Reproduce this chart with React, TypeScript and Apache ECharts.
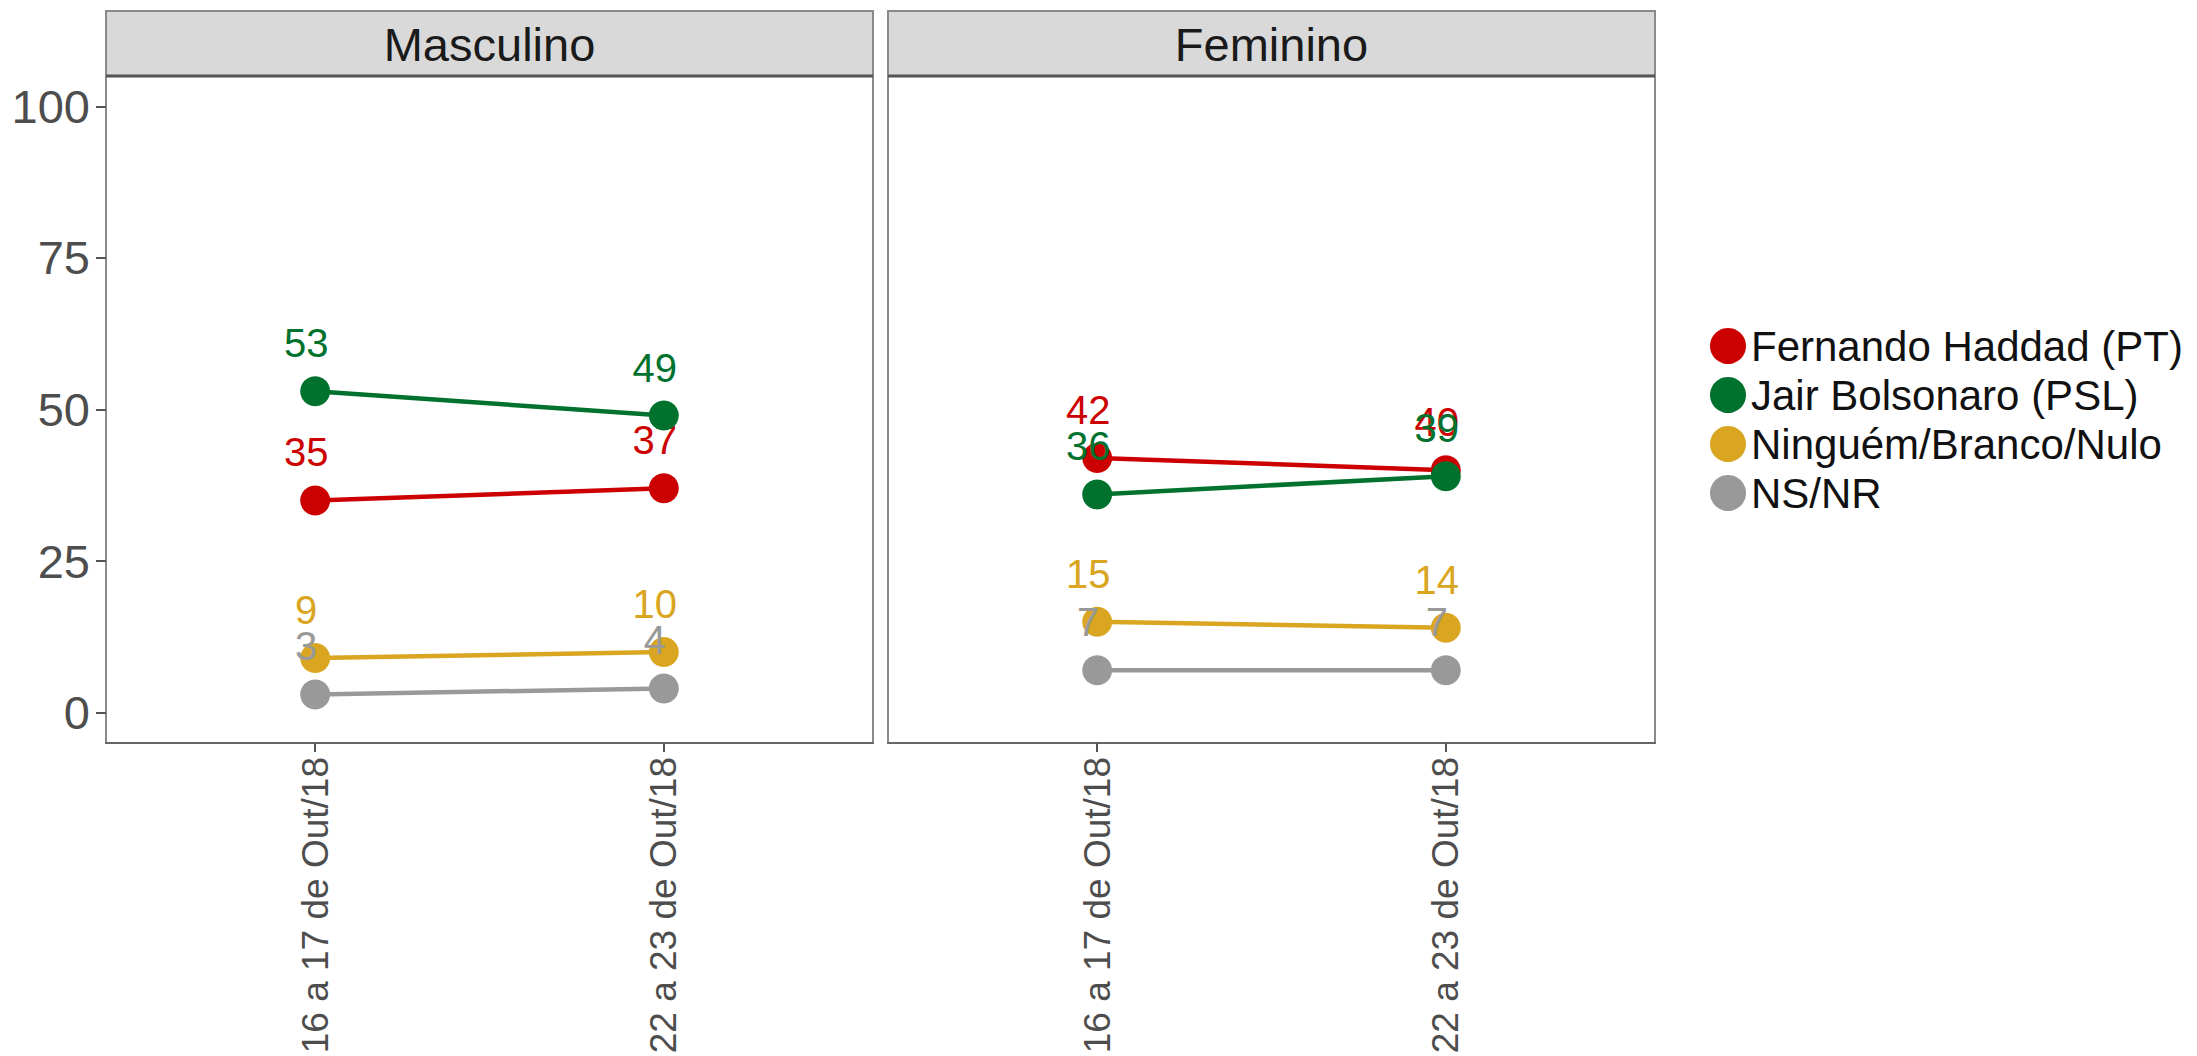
import React, { useEffect, useRef } from "react";
import * as echarts from "echarts";

// ---- Data ----
const periods = ["16 a 17 de Out/18", "22 a 23 de Out/18"];
const panels = ["Masculino", "Feminino"];
const candidates = [
  "Fernando Haddad (PT)",
  "Jair Bolsonaro (PSL)",
  "Ninguém/Branco/Nulo",
  "NS/NR",
];
const colors = ["#cc0000", "#00722d", "#daa520", "#999999"];

// values per candidate, [period1, period2]
const masculino = [
  [35, 37],
  [53, 49],
  [9, 10],
  [3, 4],
];
const feminino = [
  [42, 40],
  [36, 39],
  [15, 14],
  [7, 7],
];
const yTicks = [0, 25, 50, 75, 100];

const FONT = "'Liberation Sans', Arial, sans-serif";

export default function App() {
  const ref = useRef<HTMLDivElement>(null);

  useEffect(() => {
    if (!ref.current) return;
    const chart = echarts.init(ref.current, null, { renderer: "svg" });

    const panelLeft = [106, 888];
    const panelWidth = 767;
    const stripTop = 11;
    const stripH = 65;
    const gridTop = 76;
    const gridH = 667;

    const grids = panelLeft.map((l) => ({
      left: l,
      top: gridTop,
      width: panelWidth,
      height: gridH,
      show: true,
      containLabel: false,
      outerBoundsMode: "none",
      borderColor: "#8a8a8a",
      borderWidth: 2,
      backgroundColor: "#ffffff",
    }));

    const xAxes = panelLeft.map((_, i) => ({
      type: "value",
      gridIndex: i,
      min: 0.4,
      max: 2.6,
      splitLine: { show: false },
      axisLine: { show: true, onZero: false, lineStyle: { color: "#666666", width: 2 } },
      axisTick: {
        show: true,
        length: 9,
        lineStyle: { color: "#555555", width: 2 },
        customValues: [1, 2],
      },
      axisLabel: {
        show: true,
        customValues: [1, 2],
        rotate: 90,
        margin: 14,
        fontSize: 37,
        fontFamily: FONT,
        color: "#4d4d4d",
        formatter: (v: number) => periods[Math.round(v) - 1] ?? "",
      },
    }));

    const yAxes = panelLeft.map((_, i) => ({
      type: "value",
      gridIndex: i,
      min: -5,
      max: 105,
      splitLine: { show: false },
      axisLine: { show: false },
      axisTick: {
        show: i === 0,
        length: 10,
        lineStyle: { color: "#555555", width: 2 },
        customValues: yTicks,
      },
      axisLabel: {
        show: i === 0,
        customValues: yTicks,
        margin: 16,
        fontSize: 47,
        fontFamily: FONT,
        color: "#4d4d4d",
      },
    }));

    const series: any[] = [];
    [masculino, feminino].forEach((panelData, p) => {
      panelData.forEach((vals, c) => {
        series.push({
          type: "line",
          name: candidates[c],
          xAxisIndex: p,
          yAxisIndex: p,
          data: vals.map((v, k) => [k + 1, v]),
          symbol: "circle",
          symbolSize: 30,
          lineStyle: { color: colors[c], width: 4.5 },
          itemStyle: { color: colors[c] },
          emphasis: { disabled: true },
          label: {
            show: true,
            position: "inside",
            offset: [-9, -48],
            fontSize: 40,
            fontFamily: FONT,
            color: colors[c],
            formatter: (d: any) => String(d.value[1]),
          },
          z: 2 + c,
        });
      });
    });

    const graphics: any[] = [];
    panels.forEach((name, p) => {
      graphics.push({
        type: "rect",
        shape: { x: panelLeft[p], y: stripTop, width: panelWidth, height: stripH },
        style: { fill: "#d9d9d9", stroke: "#8a8a8a", lineWidth: 2 },
        z: 10,
      });
      graphics.push({
        type: "line",
        shape: {
          x1: panelLeft[p],
          y1: stripTop + stripH,
          x2: panelLeft[p] + panelWidth,
          y2: stripTop + stripH,
        },
        style: { stroke: "#555555", lineWidth: 3 },
        z: 11,
      });
      graphics.push({
        type: "text",
        x: panelLeft[p] + panelWidth / 2,
        y: stripTop + stripH / 2 + 1,
        style: {
          text: name,
          fontSize: 47,
          fontFamily: FONT,
          fill: "#1a1a1a",
          align: "center",
          verticalAlign: "middle",
        },
        z: 12,
      });
    });

    chart.setOption({
      animation: false,
      backgroundColor: "#ffffff",
      grid: grids,
      xAxis: xAxes,
      yAxis: yAxes,
      series,
      legend: {
        orient: "vertical",
        left: 1705,
        top: 320,
        data: candidates,
        icon: "circle",
        itemWidth: 36,
        itemHeight: 36,
        itemGap: 7,
        itemTextGap: 7,
        selectedMode: false,
        textStyle: {
          fontSize: 42,
          fontFamily: FONT,
          color: "#111111",
          lineHeight: 41,
        },
      },
      graphic: graphics,
    });

    return () => chart.dispose();
  }, []);

  return (
    <div
      ref={ref}
      style={{ position: "absolute", left: 0, top: 0, width: 2197, height: 1056 }}
    />
  );
}
